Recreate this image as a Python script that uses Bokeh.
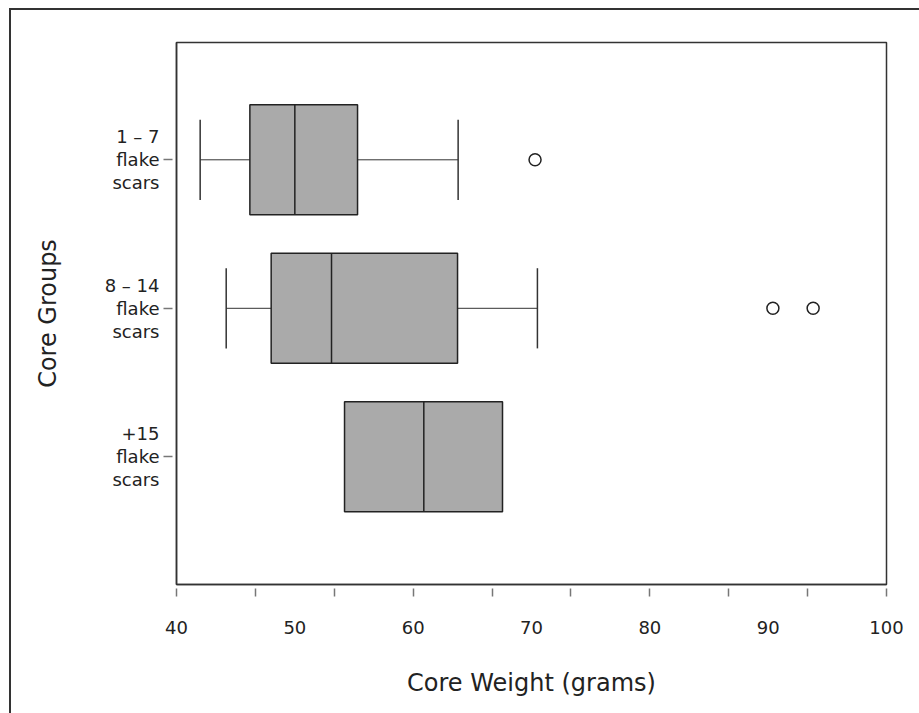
from bokeh.plotting import figure
from bokeh.models import Range1d, FixedTicker, ColumnDataSource, InlineStyleSheet
from bokeh.embed import file_html
from bokeh.resources import INLINE

# ---- data ----
groups = ["1 \u2013 7\nflake\nscars", "8 \u2013 14\nflake\nscars", "+15\nflake\nscars"]
ypos = [3, 2, 1]
q1 = [46.2, 48.0, 54.2]
median = [50.0, 53.1, 60.9]
q3 = [55.3, 63.75, 67.55]
whisk_lo = [42.0, 44.2, None]
whisk_hi = [63.8, 70.5, None]
outlier_group = [3, 2, 2]
outlier_val = [70.3, 90.4, 93.8]
x_labels = [40, 50, 60, 70, 80, 90, 100]
x_minor = [40, 46.667, 53.333, 60, 66.667, 73.333, 80, 86.667, 93.333, 100]

FONT = "DejaVu Sans"
DARK = "#222222"

p = figure(width=919, height=713, output_backend="svg", toolbar_location=None,
           x_range=Range1d(40, 100), y_range=Range1d(0.14, 3.79),
           min_border_left=176, min_border_right=33, min_border_top=42, min_border_bottom=129,
           x_axis_label="Core Weight (grams)", y_axis_label="Core Groups")
p.grid.visible = False
p.outline_line_color = "#333333"
p.outline_line_width = 1.5
p.background_fill_color = "white"
p.border_fill_color = "white"

# outer page border (left and top edges visible, right/bottom off-page)
p.stylesheets = [InlineStyleSheet(css="""
:host { position: relative; }
:host::after { content: ''; position: absolute; left: 9px; top: 8px; right: 0px; bottom: 0px;
  border-left: 2.5px solid #333333; border-top: 2.5px solid #333333;
  pointer-events: none; box-sizing: border-box; }
""")]

# whiskers
wl = [(y, lo, a) for y, lo, a in zip(ypos, whisk_lo, q1) if lo is not None]
wh = [(y, hi, b) for y, hi, b in zip(ypos, whisk_hi, q3) if hi is not None]
ws = ColumnDataSource(dict(
    y=[w[0] for w in wl] + [w[0] for w in wh],
    x0=[w[1] for w in wl] + [w[2] for w in wh],
    x1=[w[2] for w in wl] + [w[1] for w in wh]))
p.segment(x0="x0", y0="y", x1="x1", y1="y", source=ws, line_color="#333333", line_width=1)
caps = ColumnDataSource(dict(
    x=[w[1] for w in wl] + [w[1] for w in wh],
    y0=[w[0] - 0.27 for w in wl] + [w[0] - 0.27 for w in wh],
    y1=[w[0] + 0.27 for w in wl] + [w[0] + 0.27 for w in wh]))
p.segment(x0="x", y0="y0", x1="x", y1="y1", source=caps, line_color="#333333", line_width=1.5)

# boxes
bs = ColumnDataSource(dict(y=ypos, left=q1, right=q3, med=median,
                           y0=[y - 0.37 for y in ypos], y1=[y + 0.37 for y in ypos]))
p.hbar(y="y", left="left", right="right", height=0.74, source=bs,
       fill_color="#aaaaaa", line_color="#222222", line_width=1.5)
p.segment(x0="med", y0="y0", x1="med", y1="y1", source=bs, line_color="#222222", line_width=1.5)

# outliers
p.scatter(x=outlier_val, y=outlier_group, size=12, marker="circle",
          fill_color="white", line_color="#222222", line_width=1.5)

# x axis
xa = p.xaxis[0]
xa.ticker = FixedTicker(ticks=x_labels, minor_ticks=x_minor)
xa.major_tick_in = 0
xa.major_tick_out = 0
xa.minor_tick_in = -4
xa.minor_tick_out = 12
xa.minor_tick_line_color = "#777777"
xa.minor_tick_line_width = 1.5
xa.axis_line_color = "#333333"
xa.axis_line_width = 1.5
xa.major_label_standoff = 24
xa.major_label_text_font = FONT
xa.major_label_text_font_size = "18px"
xa.major_label_text_color = DARK
xa.axis_label_text_font = FONT
xa.axis_label_text_font_size = "24px"
xa.axis_label_text_font_style = "normal"
xa.axis_label_text_color = DARK
xa.axis_label_standoff = 32

# y axis
ya = p.yaxis[0]
ya.ticker = FixedTicker(ticks=ypos, minor_ticks=[])
ya.major_label_overrides = {y: g for y, g in zip(ypos, groups)}
ya.major_tick_in = -4
ya.major_tick_out = 13
ya.major_tick_line_color = "#777777"
ya.major_tick_line_width = 1.5
ya.minor_tick_in = 0
ya.minor_tick_out = 0
ya.axis_line_color = "#333333"
ya.axis_line_width = 1.5
ya.major_label_standoff = 4
ya.major_label_orientation = "horizontal"
ya.major_label_text_font = FONT
ya.major_label_text_font_size = "18px"
ya.major_label_text_color = DARK
ya.major_label_text_align = "right"
ya.major_label_text_line_height = 1.1
ya.axis_label_text_font = FONT
ya.axis_label_text_font_size = "24px"
ya.axis_label_text_font_style = "normal"
ya.axis_label_text_color = DARK
ya.axis_label_standoff = 40

open("out.html", "w").write(file_html(p, INLINE))
